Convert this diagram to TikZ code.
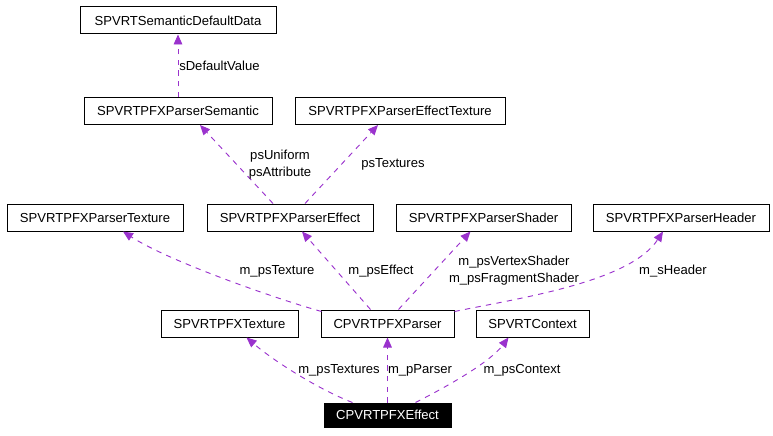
\documentclass[tikz,border=0pt]{standalone}
\usepackage{fontspec}
\setmainfont{Liberation Sans}
\usetikzlibrary{arrows.meta,calc}
\definecolor{INK}{HTML}{000000}
\definecolor{EDGE}{HTML}{9A32CD}

\begin{document}
\begin{tikzpicture}[x=0.75pt,y=-0.75pt]
\tikzset{cls/.style={draw=INK,line width=0.75pt,fill=white,inner sep=0pt,minimum height=20.25pt,font=\fontsize{9.8}{11}\selectfont},
 cur/.style={cls,fill=INK,text=white,minimum height=18pt},
 use/.style={EDGE,line width=0.7pt,dash pattern=on 4pt off 4pt,-{Triangle[length=7.5pt,width=6.5pt]}},
 lbl/.style={font=\fontsize{9.8}{12.75}\selectfont,inner sep=0pt,align=center}}
\useasboundingbox (0,0) rectangle (773,435);
\node[cls,minimum width=147pt] (dd) at (178,20.5) {SPVRTSemanticDefaultData};
\node[cls,minimum width=141pt] (sem) at (178,111) {SPVRTPFXParserSemantic};
\node[cls,minimum width=157.5pt] (efftex) at (400,111) {SPVRTPFXParserEffectTexture};
\node[cls,minimum width=132pt] (ptex) at (95,217.5) {SPVRTPFXParserTexture};
\node[cls,minimum width=124.5pt] (peff) at (290,217.5) {SPVRTPFXParserEffect};
\node[cls,minimum width=131.25pt] (pshd) at (483.5,217.5) {SPVRTPFXParserShader};
\node[cls,minimum width=132pt] (phdr) at (681,217.5) {SPVRTPFXParserHeader};
\node[cls,minimum width=102.75pt] (tex) at (229.5,323.5) {SPVRTPFXTexture};
\node[cls,minimum width=99.75pt] (parser) at (387.5,323.5) {CPVRTPFXParser};
\node[cls,minimum width=84.75pt] (ctx) at (532.5,323.5) {SPVRTContext};
\node[cur,minimum width=95.25pt] (eff) at (387.5,415) {CPVRTPFXEffect};
\draw[use] (sem.north) -- (dd.south);
\draw[use] ($(peff.north)+(-17,0)$) -- ($(sem.south)+(22,0)$);
\draw[use] ($(peff.north)+(15,0)$) -- ($(efftex.south)+(-22,0)$);
\draw[use] ($(parser.north west)+(1,2)$) .. controls (280,300) and (170,262) .. ($(ptex.south)+(28,0)$);
\draw[use] ($(parser.north)+(-17,0)$) -- ($(peff.south)+(12,0)$);
\draw[use] ($(parser.north)+(11,0)$) -- ($(pshd.south)+(-13,0)$);
\draw[use] ($(parser.north east)+(0,2)$) .. controls (520,298) and (630,282) .. ($(phdr.south)+(-18,0)$);
\draw[use] ($(eff.north)+(-35,0)$) .. controls (320,390) and (275,362) .. ($(tex.south)+(17,0)$);
\draw[use] (eff.north) -- (parser.south);
\draw[use] ($(eff.north)+(28,0)$) .. controls (450,385) and (490,362) .. ($(ctx.south)+(-24,0)$);
\node[lbl,anchor=west] (l1) at (179,66) {sDefaultValue};
\node[lbl] (l2) at (280,165) {psUniform\\psAttribute};
\node[lbl] (l3) at (393,164) {psTextures};
\node[lbl] (l4) at (277,271) {m\_psTexture};
\node[lbl] (l5) at (381,271) {m\_psEffect};
\node[lbl] (l6) at (514,271) {m\_psVertexShader\\m\_psFragmentShader};
\node[lbl] (l7) at (673,271) {m\_sHeader};
\node[lbl] (l8) at (339,370) {m\_psTextures};
\node[lbl] (l9) at (420,370) {m\_pParser};
\node[lbl] (l10) at (522,370) {m\_psContext};
\end{tikzpicture}
\end{document}
